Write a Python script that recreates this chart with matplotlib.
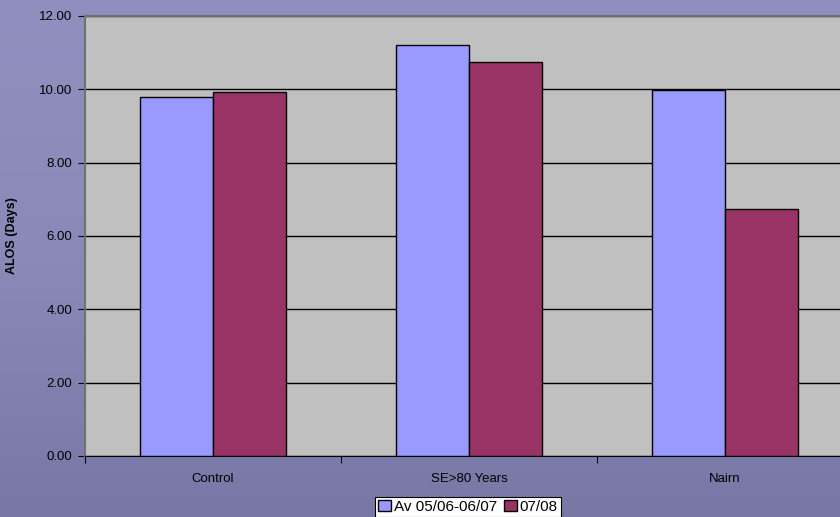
import numpy as np
import matplotlib
matplotlib.use('Agg')
import matplotlib.pyplot as plt

# data
categories = ['Control', 'SE>80 Years', 'Nairn']
series_names = ['Av 05/06-06/07', '07/08']
av_0506_0607 = [9.80, 11.21, 9.98]
yr_0708 = [9.93, 10.74, 6.74]
y_ticks = [0, 2, 4, 6, 8, 10, 12]

fig = plt.figure(figsize=(8.4, 5.17), dpi=100)

# slide background, slightly darker towards the bottom
bg = fig.add_axes([0, 0, 1, 1], zorder=-10)
grad = np.linspace(0, 1, 256).reshape(-1, 1)
bg.imshow(grad, aspect='auto', cmap=matplotlib.colors.LinearSegmentedColormap.from_list(
    'slide', ['#9090c0', '#8a8ab8', '#7878a6']), extent=[0, 1, 0, 1])
bg.axis('off')

# plot area: x 85..853 px, y 16..456 px
ax = fig.add_axes([85 / 840, 61 / 517, 768 / 840, 440 / 517])
ax.set_facecolor('#c0c0c0')

x = np.arange(len(categories)) + 0.5
w = 0.287
ax.bar(x - w / 2, av_0506_0607, w, color='#9999ff', edgecolor='black', linewidth=1,
       label=series_names[0], zorder=3)
ax.bar(x + w / 2, yr_0708, w, color='#993366', edgecolor='black', linewidth=1,
       label=series_names[1], zorder=3)

ax.set_xlim(0, 3)
ax.set_ylim(0, 12)
ax.set_yticks(y_ticks)
ax.set_yticklabels([f'{v:.2f}' for v in y_ticks], fontsize=9.5, family='Liberation Sans')
ax.yaxis.grid(True, color='black', linewidth=1)
ax.set_axisbelow(True)

ax.set_xticks([0, 1, 2, 3])
ax.set_xticklabels([])
ax.set_xticks(x, minor=True)
ax.set_xticklabels(categories, minor=True, fontsize=9.5, family='Liberation Sans')
ax.tick_params(axis='x', which='minor', length=0, pad=12)
ax.tick_params(axis='x', which='major', length=5, direction='out', color='black')
ax.tick_params(axis='y', length=5, direction='out', color='black', pad=4)

for s in ['top', 'left']:
    ax.spines[s].set_color('#707070')
    ax.spines[s].set_linewidth(1.5)
ax.spines['bottom'].set_color('black')
ax.spines['right'].set_visible(False)

ax.set_ylabel('ALOS (Days)', fontsize=9, fontweight='bold', family='Liberation Sans')
ax.yaxis.set_label_coords(-67 / 768, 0.5)

leg = ax.legend(loc='lower center', bbox_to_anchor=(468 / 840, 0),
                bbox_transform=fig.transFigure, ncol=2, frameon=True, fancybox=False,
                edgecolor='black', facecolor='white', framealpha=1,
                prop={'family': 'Liberation Sans', 'size': 11},
                handlelength=0.8, handleheight=0.8, handletextpad=0.2,
                columnspacing=0.5, borderpad=0.2, borderaxespad=0)
leg.get_frame().set_linewidth(0.8)

fig.savefig('out.png', dpi=100)
